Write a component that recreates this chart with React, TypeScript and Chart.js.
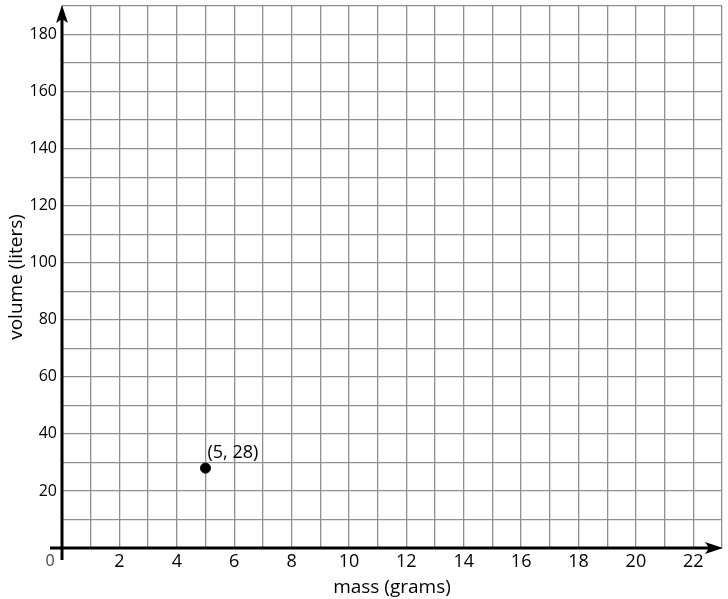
import React, { useEffect, useRef } from "react";
import { Chart, registerables } from "chart.js";

Chart.register(...registerables);

const pointX = [5];
const pointY = [28];
const pointLabels = ["(5, 28)"];
const xTitle = "mass (grams)";
const yTitle = "volume (liters)";
const xMin = 0, xMax = 23, xStep = 1;
const yMin = 0, yMax = 190, yStep = 10;

const FONT = "'Open Sans', 'Noto Sans', sans-serif";

const axesPlugin = {
  id: "axesArrows",
  afterDatasetsDraw(chart: any) {
    const { ctx, scales, chartArea } = chart;
    const xs = scales.x, ys = scales.y;
    const x0 = xs.getPixelForValue(0);
    const y0 = ys.getPixelForValue(0);
    ctx.save();
    ctx.strokeStyle = "#000";
    ctx.fillStyle = "#000";
    ctx.lineWidth = 3;
    // y axis
    ctx.beginPath();
    ctx.moveTo(x0, y0 + 12);
    ctx.lineTo(x0, chartArea.top + 10);
    ctx.stroke();
    ctx.beginPath();
    ctx.moveTo(x0, chartArea.top - 1);
    ctx.lineTo(x0 - 6, chartArea.top + 17);
    ctx.lineTo(x0, chartArea.top + 13);
    ctx.lineTo(x0 + 6, chartArea.top + 17);
    ctx.closePath();
    ctx.fill();
    // x axis
    ctx.beginPath();
    ctx.moveTo(x0 - 12, y0);
    ctx.lineTo(chartArea.right - 10, y0);
    ctx.stroke();
    ctx.beginPath();
    ctx.moveTo(chartArea.right + 1, y0);
    ctx.lineTo(chartArea.right - 17, y0 - 6);
    ctx.lineTo(chartArea.right - 13, y0);
    ctx.lineTo(chartArea.right - 17, y0 + 6);
    ctx.closePath();
    ctx.fill();
    // origin label
    ctx.font = `16px ${FONT}`;
    ctx.textAlign = "center";
    ctx.textBaseline = "middle";
    ctx.fillStyle = "#444";
    ctx.fillText("0", x0 - 12, y0 + 13);
    // point labels
    ctx.fillStyle = "#000";
    ctx.font = `18px ${FONT}`;
    ctx.textAlign = "left";
    const meta = chart.getDatasetMeta(0);
    meta.data.forEach((el: any, i: number) => {
      ctx.fillText(pointLabels[i], el.x + 2, el.y - 15);
    });
    ctx.restore();
  },
};

export default function App() {
  const ref = useRef<HTMLCanvasElement>(null);
  useEffect(() => {
    if (!ref.current) return;
    const chart = new Chart(ref.current, {
      type: "scatter",
      data: {
        datasets: [
          {
            data: pointX.map((x, i) => ({ x, y: pointY[i] })),
            backgroundColor: "#000",
            borderColor: "#000",
            pointRadius: 5,
          },
        ],
      },
      options: {
        animation: false,
        responsive: false,
        layout: { padding: { top: 4, right: 4, left: 0, bottom: 0 } },
        plugins: { legend: { display: false }, tooltip: { enabled: false } },
        scales: {
          x: {
            type: "linear",
            min: xMin,
            max: xMax,
            border: { display: false },
            grid: { color: "#8f8f8f", lineWidth: 1.3, drawTicks: false },
            ticks: {
              stepSize: xStep,
              autoSkip: false,
              maxRotation: 0,
              padding: 3,
              color: "#000",
              font: { family: FONT, size: 18 },
              callback: (v: any) => (v > 0 && v < xMax && v % 2 === 0 ? String(v) : ""),
            },
            title: {
              display: true,
              text: xTitle,
              color: "#000",
              font: { family: FONT, size: 19 },
              padding: { top: -5, bottom: 0 },
            },
            afterFit: (s: any) => {
              s.height = 51;
              s.paddingRight = 0;
            },
          },
          y: {
            type: "linear",
            min: yMin,
            max: yMax,
            border: { display: false },
            grid: { color: "#8f8f8f", lineWidth: 1.3, drawTicks: false },
            ticks: {
              stepSize: yStep,
              autoSkip: false,
              padding: 5,
              color: "#000",
              font: { family: FONT, size: 16 },
              callback: (v: any) => (v > 0 && v % 20 === 0 ? String(v) : ""),
            },
            title: {
              display: true,
              text: yTitle,
              color: "#000",
              font: { family: FONT, size: 19 },
              padding: { top: 5, bottom: 0 },
            },
            afterFit: (s: any) => {
              s.width = 62;
              s.paddingTop = 0;
            },
          },
        },
      },
      plugins: [axesPlugin],
    });
    return () => chart.destroy();
  }, []);
  return (
    <div style={{ position: "fixed", left: 0, top: 0, width: 728, height: 599, background: "#fff" }}>
      <canvas ref={ref} width={728} height={599} style={{ display: "block" }} />
    </div>
  );
}
